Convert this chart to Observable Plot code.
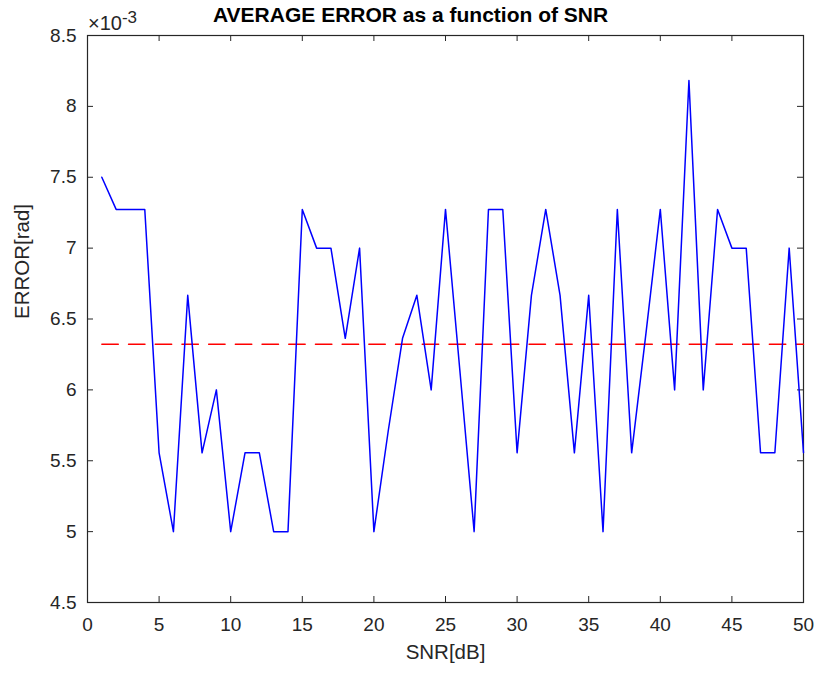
<!DOCTYPE html>
<html>
<head>
<meta charset="utf-8">
<script src="https://cdn.jsdelivr.net/npm/d3@7"></script>
<script src="https://cdn.jsdelivr.net/npm/@observablehq/plot@0.6"></script>
<style>
  html, body { margin: 0; padding: 0; background: #fff; }
  #chart { width: 819px; height: 677px; }
</style>
</head>
<body>
<div id="chart"></div>
<script>
// SNR values (dB)
const snr = d3.range(1, 51);
// Average error, in units of 1e-3 rad
const errorVals = [
  7.5, 7.273, 7.273, 7.273, 5.556, 5, 6.667, 5.556, 6, 5,
  5.556, 5.556, 5, 5, 7.273, 7, 7, 6.364, 7, 5,
  5.71, 6.364, 6.667, 6, 7.273, 6.14, 5, 7.273, 7.273, 5.556,
  6.667, 7.273, 6.667, 5.556, 6.667, 5, 7.273, 5.556, 6.4, 7.273,
  6, 8.182, 6, 7.273, 7, 7, 5.556, 5.556, 7, 5.556
];
const meanError = 6.322;
const xTicks = [0, 5, 10, 15, 20, 25, 30, 35, 40, 45, 50];
const yTicks = [4.5, 5, 5.5, 6, 6.5, 7, 7.5, 8, 8.5];
const titleText = "AVERAGE ERROR as a function of SNR";
const xLabel = "SNR[dB]";
const yLabel = "ERROR[rad]";

const data = snr.map((s, i) => ({snr: s, err: errorVals[i]}));
const meanData = [{snr: snr[0], err: meanError}, {snr: snr[snr.length - 1], err: meanError}];

const W = 819, H = 677;
const mL = 87, mR = 16, mT = 35, mB = 75;
const frameH = H - mT - mB, frameW = W - mL - mR;
const tk = 6;
const axisColor = "#262626";
const font = "'Liberation Sans', Arial, Helvetica, sans-serif";

const plot = Plot.plot({
  width: W,
  height: H,
  marginLeft: mL,
  marginRight: mR,
  marginTop: mT,
  marginBottom: mB,
  style: {fontFamily: font, background: "#fff", overflow: "visible"},
  x: {domain: [0, 50]},
  y: {domain: [4.5, 8.5]},
  marks: [
    Plot.frame({stroke: axisColor, strokeWidth: 1.2}),
    // inward ticks, bottom and top
    Plot.tickX(xTicks, {x: d => d, insetTop: frameH - tk, stroke: axisColor}),
    Plot.tickX(xTicks, {x: d => d, insetBottom: frameH - tk, stroke: axisColor}),
    // inward ticks, left and right
    Plot.tickY(yTicks, {y: d => d, insetRight: frameW - tk, stroke: axisColor}),
    Plot.tickY(yTicks, {y: d => d, insetLeft: frameW - tk, stroke: axisColor}),
    Plot.axisX(xTicks, {tickSize: 0, tickPadding: 15, fontSize: 19, fill: axisColor, label: null}),
    Plot.axisY(yTicks, {tickSize: 0, tickPadding: 11, fontSize: 19, fill: axisColor, label: null,
      tickFormat: d => String(d)}),
    Plot.line(meanData, {x: "snr", y: "err", stroke: "#ff0000", strokeWidth: 1.4,
      strokeDasharray: "16.5,10.2"}),
    Plot.line(data, {x: "snr", y: "err", stroke: "#0000ff", strokeWidth: 1.5}),
    Plot.text([xLabel], {text: d => d, frameAnchor: "bottom", dy: 56, fontSize: 20.5, fill: axisColor}),
    Plot.text([yLabel], {text: d => d, frameAnchor: "left", dx: -65, rotate: -90, fontSize: 20.5, fill: axisColor})
  ]
});

document.getElementById("chart").appendChild(plot);

const svg = d3.select(plot);
// title
svg.append("text")
  .attr("x", 213)
  .attr("y", 22)
  .attr("text-anchor", "start")
  .attr("font-family", font)
  .attr("font-size", 21)
  .attr("font-weight", "bold")
  .attr("fill", "#000")
  .text(titleText);

// exponent label "×10^-3" above the y axis
const expo = svg.append("text")
  .attr("x", mL + 1)
  .attr("y", 30)
  .attr("text-anchor", "start")
  .attr("font-family", font)
  .attr("font-size", 20)
  .attr("fill", axisColor);
expo.append("tspan").text("\u00d710");
expo.append("tspan").attr("dy", -7).attr("font-size", 17).text("-3");
</script>
</body>
</html>
